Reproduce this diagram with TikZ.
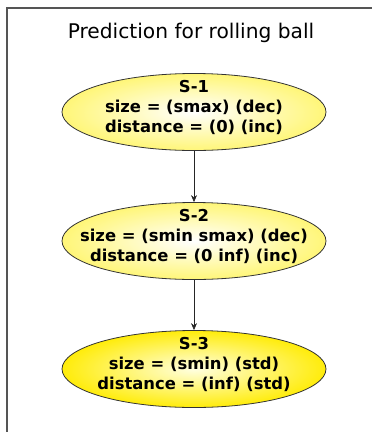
\documentclass[tikz,border=0pt]{standalone}
\usepackage{fontspec}
\setmainfont{DejaVu Sans}
\usetikzlibrary{shapes.geometric,arrows.meta}
\definecolor{paleyel}{RGB}{255,246,120}
\definecolor{brightyel}{RGB}{255,236,10}
\definecolor{framegray}{RGB}{85,85,85}
\tikzset{
  state/.style={ellipse, draw=black!80, line width=0.8pt,
    minimum width=264pt, minimum height=77pt, inner xsep=-25pt, inner ysep=-9pt,
    text depth=11pt,
    align=center, font=\bfseries\fontsize{16.4}{20}\selectfont},
  palestate/.style={state, inner color=white, outer color=paleyel},
  activestate/.style={state, inner color=yellow!12, outer color=brightyel},
  link/.style={draw=black!85, line width=0.7pt, -{Stealth[length=7pt,width=6pt]}}
}
\begin{document}
\begin{tikzpicture}[x=1pt,y=-1pt]
  \useasboundingbox (0,0) rectangle (372,432);
  % window frame
  \draw[framegray, line width=1.8pt] (372,8) -- (7,8) -- (7,432);
  % title
  \node[font=\fontsize{20.2}{24}\selectfont] (title) at (191,33) {Prediction for rolling ball};
  % states
  \node[palestate] (s1) at (194,112) {S-1\\size = (smax) (dec)\\distance = (0) (inc)};
  \node[palestate] (s2) at (194,241) {S-2\\size = (smin smax) (dec)\\distance = (0 inf) (inc)};
  \node[activestate] (s3) at (194,369) {S-3\\size = (smin) (std)\\distance = (inf) (std)};
  % transitions
  \draw[link] (s1) -- (s2);
  \draw[link] (s2) -- (s3);
\end{tikzpicture}
\end{document}
